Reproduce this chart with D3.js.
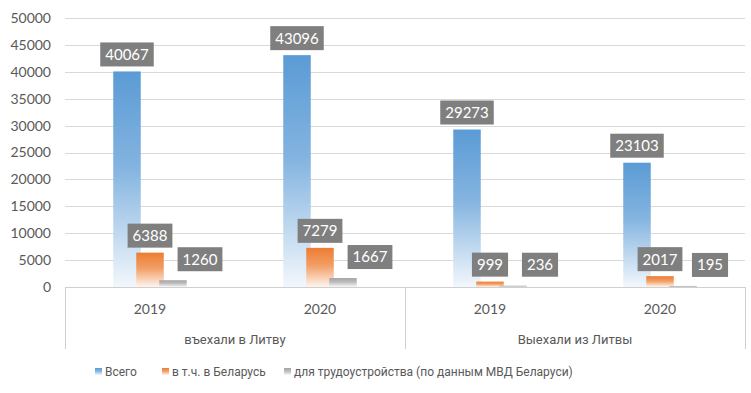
<!DOCTYPE html>
<html>
<head>
<meta charset="utf-8">
<script src="https://cdn.jsdelivr.net/npm/d3@7"></script>
<style>
  body { margin: 0; background: #fff; }
  svg { display: block; font-family: Lato, "Open Sans", sans-serif; }
</style>
</head>
<body>
<svg id="chart" width="751" height="393"></svg>
<script>
// categories (two levels) and series
var groups = ['въехали в Литву', 'Выехали из Литвы'];
var years = ['2019', '2020'];
var seriesNames = ['Всего', 'в т.ч. в Беларусь', 'для трудоустройства (по данным МВД Беларуси)'];
var total = [40067, 43096, 29273, 23103];
var belarus = [6388, 7279, 999, 2017];
var work = [1260, 1667, 236, 195];
var yTicks = [0, 5000, 10000, 15000, 20000, 25000, 30000, 35000, 40000, 45000, 50000];
var colors = ['#5b9bd5', '#ed7d31', '#a5a5a5'];

var svg = d3.select('#chart');
var margin = {left: 65, right: 6, top: 18, bottom: 106};
var width = 751 - margin.left - margin.right,
    height = 393 - margin.top - margin.bottom;

var cats = [];
groups.forEach(function (g, gi) {
    years.forEach(function (yr) { cats.push({group: g, gi: gi, year: yr, key: g + yr}); });
});
var values = [total, belarus, work];

var x = d3.scaleBand().domain(cats.map(function (c) { return c.key; })).range([0, width]);
var y = d3.scaleLinear().domain([0, 50000]).range([height, 0]);

var defs = svg.append('defs');
colors.forEach(function (c, i) {
    var g = defs.append('linearGradient').attr('id', 'grad' + i)
        .attr('x1', 0).attr('y1', 0).attr('x2', 0).attr('y2', 1);
    g.append('stop').attr('offset', '0%').attr('stop-color', c);
    g.append('stop').attr('offset', '45%').attr('stop-color', d3.interpolateRgb(c, '#fff')(0.25));
    g.append('stop').attr('offset', '100%').attr('stop-color', d3.interpolateRgb(c, '#fff')(0.92));
});

var plot = svg.append('g').attr('transform', 'translate(' + margin.left + ',' + margin.top + ')');

// grid
plot.selectAll('.grid').data(yTicks.slice(1)).enter().append('line')
    .attr('x1', 0).attr('x2', width)
    .attr('y1', function (d) { return Math.round(y(d)) + 0.5; })
    .attr('y2', function (d) { return Math.round(y(d)) + 0.5; })
    .attr('stroke', '#d9d9d9').attr('stroke-width', 1);

// y axis labels
var yAxis = d3.axisLeft(y).tickValues(yTicks).tickFormat(d3.format('d')).tickSize(0).tickPadding(14);
var ya = plot.append('g').call(yAxis);
ya.select('.domain').remove();
ya.selectAll('text').attr('fill', '#595959').style('font-size', '14px')
    .style('font-family', 'Lato, "Open Sans", sans-serif');

// bars
var barW = 27.5, step = 23;
seriesNames.forEach(function (s, si) {
    plot.selectAll('.bar' + si).data(cats).enter().append('rect')
        .attr('x', function (d) { return x(d.key) + x.bandwidth() / 2 + (si - 1) * step - barW / 2; })
        .attr('y', function (d, i) { return y(values[si][i]); })
        .attr('width', barW)
        .attr('height', function (d, i) { return height - y(values[si][i]); })
        .attr('fill', 'url(#grad' + si + ')');
});

// axis lines and category separators
var axisCol = '#d0d0d0';
plot.append('line').attr('x1', 0).attr('x2', width).attr('y1', height + 0.5).attr('y2', height + 0.5)
    .attr('stroke', axisCol);
[0, width / 2, width].forEach(function (px) {
    plot.append('line').attr('x1', Math.round(px) + 0.5).attr('x2', Math.round(px) + 0.5)
        .attr('y1', height).attr('y2', height + 62).attr('stroke', axisCol);
});

plot.selectAll('.yr').data(cats).enter().append('text')
    .attr('x', function (d) { return x(d.key) + x.bandwidth() / 2; })
    .attr('y', height + 27)
    .attr('text-anchor', 'middle').attr('fill', '#595959').style('font-size', '14px')
    .text(function (d) { return d.year; });

plot.selectAll('.grp').data(groups).enter().append('text')
    .attr('x', function (d, i) { return width / 4 + i * width / 2; })
    .attr('y', height + 57)
    .attr('text-anchor', 'middle').attr('fill', '#595959').style('font-size', '13px')
    .style('font-family', 'Roboto, sans-serif')
    .text(function (d) { return d; });

// data labels
var boxH = 24;
seriesNames.forEach(function (s, si) {
    cats.forEach(function (c, i) {
        var v = values[si][i];
        var cx = x(c.key) + x.bandwidth() / 2 + (si - 1) * step;
        var bottom = y(v) - 5;
        if (si === 2) { cx += 27; bottom -= 4; }
        var lg = plot.append('g');
        var t = lg.append('text')
            .attr('x', cx).attr('y', bottom - boxH / 2)
            .attr('dy', '0.36em')
            .attr('text-anchor', 'middle').attr('fill', '#fff')
            .style('font-size', '15px').text(v);
        var w = t.node().getComputedTextLength() + 10;
        lg.insert('rect', 'text').attr('x', cx - w / 2).attr('y', bottom - boxH)
            .attr('width', w).attr('height', boxH).attr('fill', '#7f7f7f');
    });
});

// legend
var legX = [95, 162, 284];
var leg = svg.append('g').attr('transform', 'translate(0,372)');
seriesNames.forEach(function (s, i) {
    leg.append('rect').attr('x', legX[i]).attr('y', -4).attr('width', 7).attr('height', 7)
        .attr('fill', 'url(#grad' + i + ')');
    leg.append('text').attr('x', legX[i] + 10).attr('y', 0).attr('dy', '0.35em')
        .attr('fill', '#595959').style('font-size', '12px')
        .style('font-family', 'Roboto, sans-serif').text(s);
});
</script>
</body>
</html>
